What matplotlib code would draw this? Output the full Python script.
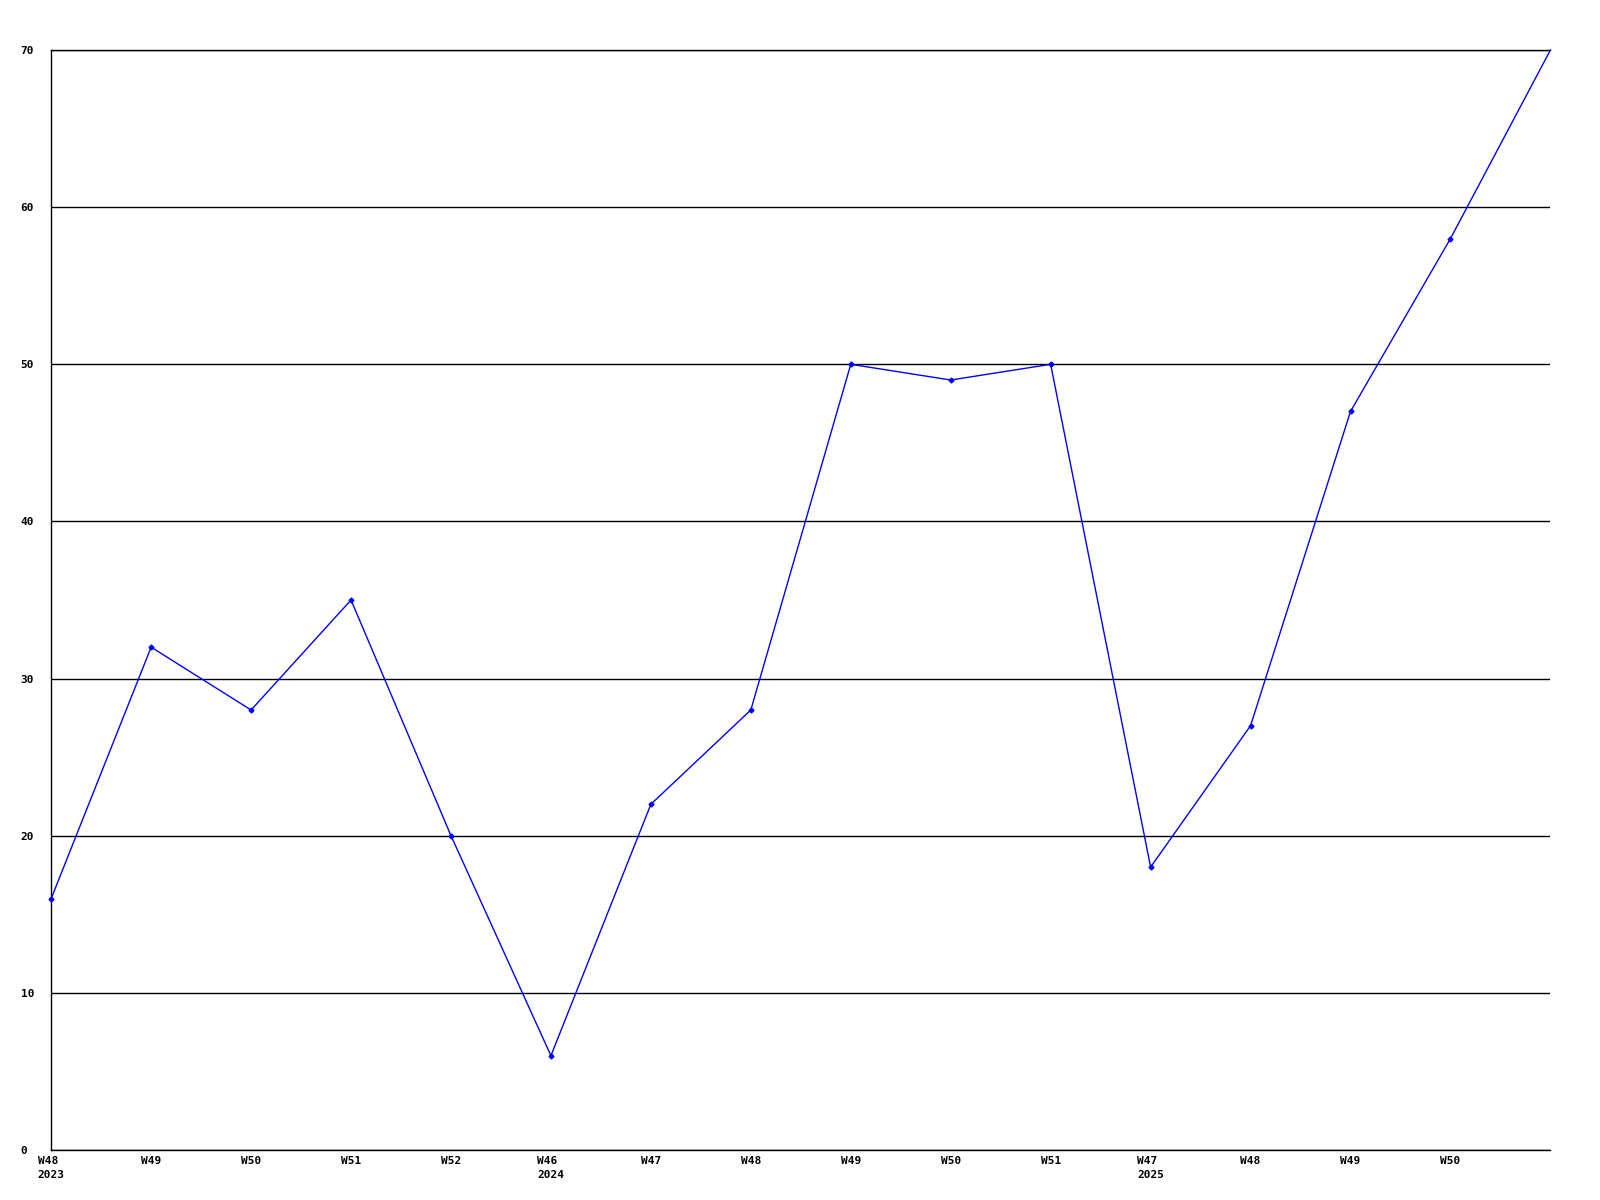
import matplotlib
matplotlib.use('Agg')
import matplotlib.pyplot as plt

# Wekelijkse waarden
weeks = ['W48\n2023', 'W49', 'W50', 'W51', 'W52', 'W46\n2024', 'W47', 'W48',
         'W49', 'W50', 'W51', 'W47\n2025', 'W48', 'W49', 'W50', '']
values = [16, 32, 28, 35, 20, 6, 22, 28, 50, 49, 50, 18, 27, 47, 58, 70]
yticks = [0, 10, 20, 30, 40, 50, 60, 70]

plt.rcParams['font.family'] = ['DejaVu Sans Mono']
plt.rcParams['font.weight'] = 'bold'

fig = plt.figure(figsize=(16, 12), dpi=100)
ax = fig.add_axes([0.032, 0.0417, 0.937, 0.9166])

x = list(range(len(values)))
ax.plot(x, values, color='#0000ff', linewidth=1, marker='D', markersize=2.5,
        markevery=list(range(len(values) - 1)), clip_on=False, zorder=3)

ax.set_xlim(0, len(values) - 1)
ax.set_ylim(0, 70)
ax.set_yticks(yticks)
ax.set_yticklabels([str(v) for v in yticks], ha='left', fontsize=8, fontweight='bold')
ax.set_xticks(x)
ax.set_xticklabels(weeks, fontsize=8, fontweight='bold', multialignment='left',
                   linespacing=1.6)
ax.tick_params(axis='y', length=0, pad=22)
ax.tick_params(axis='x', length=0, pad=4)

ax.grid(axis='y', color='black', linewidth=1)
ax.set_axisbelow(True)
ax.spines['right'].set_visible(False)
for s in ['left', 'bottom', 'top']:
    ax.spines[s].set_linewidth(1)

fig.savefig('out.png', dpi=100)
